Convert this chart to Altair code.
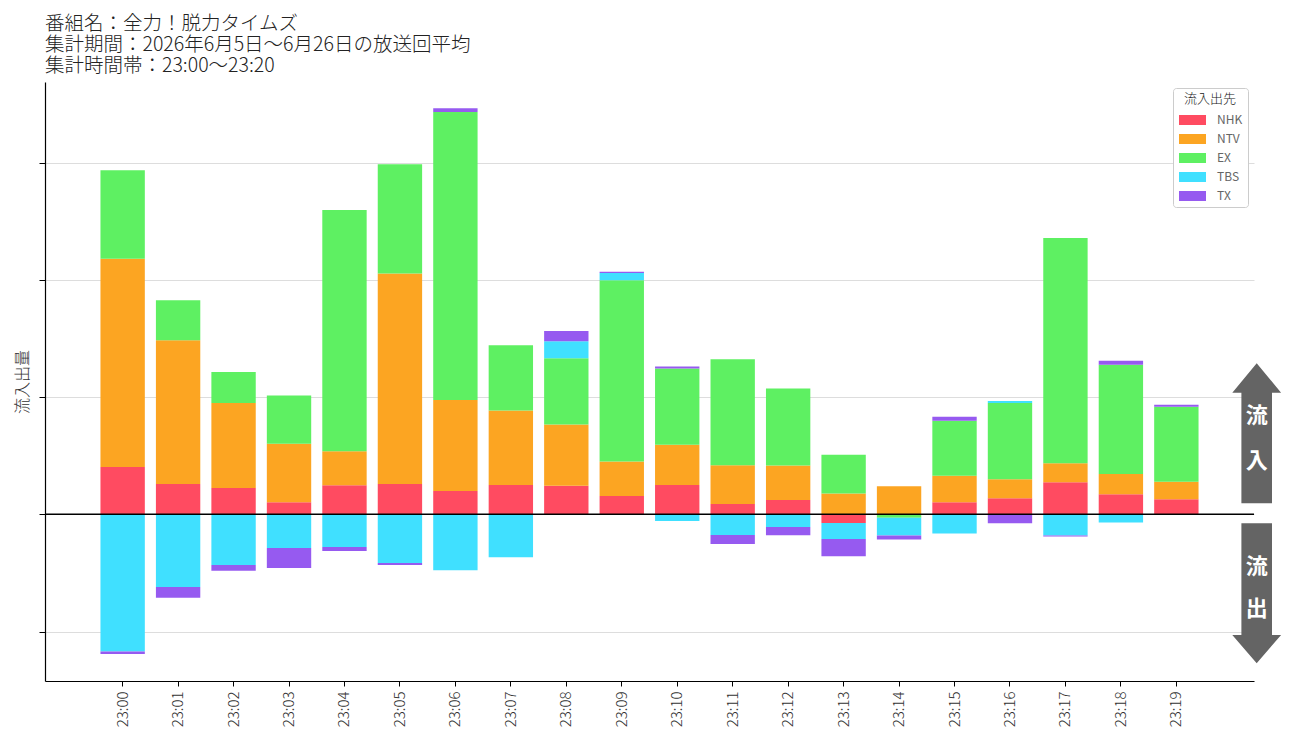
import altair as alt
import pandas as pd

times = ["23:00", "23:01", "23:02", "23:03", "23:04", "23:05", "23:06", "23:07", "23:08", "23:09",
         "23:10", "23:11", "23:12", "23:13", "23:14", "23:15", "23:16", "23:17", "23:18", "23:19"]
networks = ["NHK", "NTV", "EX", "TBS", "TX"]
colors = ["#FF4B61", "#FCA522", "#5EF062", "#40E0FF", "#965AF0"]

nhk = [4.04, 2.59, 2.24, 1.04, 2.49, 2.59, 1.99, 2.51, 2.43, 1.57,
       2.51, 0.89, 1.23, -0.74, 0.0, 1.03, 1.37, 2.74, 1.71, 1.29]
ntv = [17.76, 12.27, 7.26, 4.98, 2.90, 17.95, 7.76, 6.34, 5.23, 2.94,
       3.43, 3.29, 2.94, 1.77, 2.40, 2.26, 1.63, 1.63, 1.74, 1.49]
ex = [7.57, 3.41, 2.65, 4.13, 20.57, 9.34, 24.57, 5.57, 5.66, 15.46,
      6.51, 9.06, 6.57, 3.31, -0.30, 4.69, 6.51, 19.20, 9.31, 6.40]
tbs = [-11.70, -6.21, -4.32, -2.87, -2.78, -4.16, -4.76, -3.66, 1.46, 0.63,
       -0.57, -1.77, -1.09, -1.37, -1.50, -1.63, 0.17, -1.80, -0.69, 0.0]
tx = [-0.22, -0.91, -0.50, -1.70, -0.35, -0.16, 0.32, 0.0, 0.86, 0.09,
      0.17, -0.77, -0.69, -1.46, -0.34, 0.34, -0.77, -0.09, 0.34, 0.17]

title_lines = ["番組名：全力！脱力タイムズ",
               "集計期間：2026年6月5日～6月26日の放送回平均",
               "集計時間帯：23:00～23:20"]
y_title = "流入出量"
legend_title = "流入出先"
y_ticks = [-10, 0, 10, 20, 30]
y_domain = [-14.22, 36.89]

series = {"NHK": nhk, "NTV": ntv, "EX": ex, "TBS": tbs, "TX": tx}
rows = []
for i, t in enumerate(times):
    for k, n in enumerate(networks):
        rows.append({"time": t, "network": n, "value": series[n][i], "ord": k})
df = pd.DataFrame(rows)

FONT = "Noto Sans CJK JP"
W, H = 1209, 599

bars = alt.Chart(df).mark_bar().encode(
    x=alt.X("time:N", sort=times,
            scale=alt.Scale(paddingInner=0.2, paddingOuter=1.0),
            axis=alt.Axis(title=None, labelAngle=270, labelAlign="right", labelBaseline="middle",
                          labelFontSize=15, labelFont=FONT, labelFontWeight=300, labelColor="#333333",
                          labelPadding=5, tickSize=5, tickColor="black", domainColor="black",
                          domainWidth=1.2, grid=False)),
    y=alt.Y("value:Q", stack="zero",
            scale=alt.Scale(domain=y_domain, nice=False, zero=False),
            axis=alt.Axis(title=y_title, values=y_ticks, labels=False, grid=True,
                          gridColor="#dddddd", gridWidth=1, tickSize=6, tickColor="black",
                          domainColor="black", domainWidth=1.2, titleFont=FONT, titleFontSize=16,
                          titleFontWeight=300, titleColor="#333333", titlePadding=8)),
    color=alt.Color("network:N", sort=networks,
                    scale=alt.Scale(domain=networks, range=colors),
                    legend=alt.Legend(title=legend_title, orient="top-right", offset=6,
                                      fillColor="white", strokeColor="#cccccc", cornerRadius=3,
                                      padding=5, titleFont=FONT, titleFontSize=13,
                                      titleFontWeight=300, titleColor="#222222",
                                      titleAnchor="middle", titlePadding=8,
                                      labelFont=FONT, labelFontSize=12, labelColor="#666666",
                                      labelOffset=18.5, symbolType="M-2.7,-1H2.7V1H-2.7Z",
                                      symbolSize=100, symbolOffset=8.5, symbolStrokeWidth=0,
                                      symbolOpacity=1, rowPadding=7)),
    order=alt.Order("ord:Q", sort="ascending"),
)

one = alt.Data(values=[{"k": 0}])

zero_line = alt.Chart(one).mark_rule(color="black", strokeWidth=1.5).encode(y=alt.datum(0))

up_path = "M0,-70L24.4,-40.6L15.3,-40.6L15.3,70L-15.3,70L-15.3,-40.6L-24.4,-40.6Z"
down_path = "M-15.3,-70L15.3,-70L15.3,41.7L24.4,41.7L0,70L-24.4,41.7L-15.3,41.7Z"

arrow_up = alt.Chart(one).mark_point(shape=up_path, filled=True, fill="#646464", opacity=1,
                                     strokeWidth=0, size=4).encode(
    x=alt.value(1211.7), y=alt.value(351.3))
arrow_down = alt.Chart(one).mark_point(shape=down_path, filled=True, fill="#646464", opacity=1,
                                       strokeWidth=0, size=4).encode(
    x=alt.value(1211.7), y=alt.value(511.3))

def label(ch, yv):
    return alt.Chart(one).mark_text(text=ch, font=FONT, fontSize=22, fontWeight="bold",
                                    color="white", align="center", baseline="middle").encode(
        x=alt.value(1211.7), y=alt.value(yv))

texts = [label("流", 333.7), label("入", 378.7), label("流", 485.0), label("出", 527.0)]

chart = alt.layer(bars, zero_line, arrow_up, arrow_down, *texts).properties(
    width=W, height=H,
    title=alt.Title(text=title_lines, anchor="start", frame="group", font=FONT, fontSize=19.5,
                    fontWeight=300, color="#222222", lineHeight=21, offset=6),
    autosize=alt.AutoSizeParams(type="none"),
    padding={"left": 37, "top": 74, "right": 32, "bottom": 56},
).configure_view(stroke=None)

chart.save("out.html", embed_options={"renderer": "svg", "actions": False})
